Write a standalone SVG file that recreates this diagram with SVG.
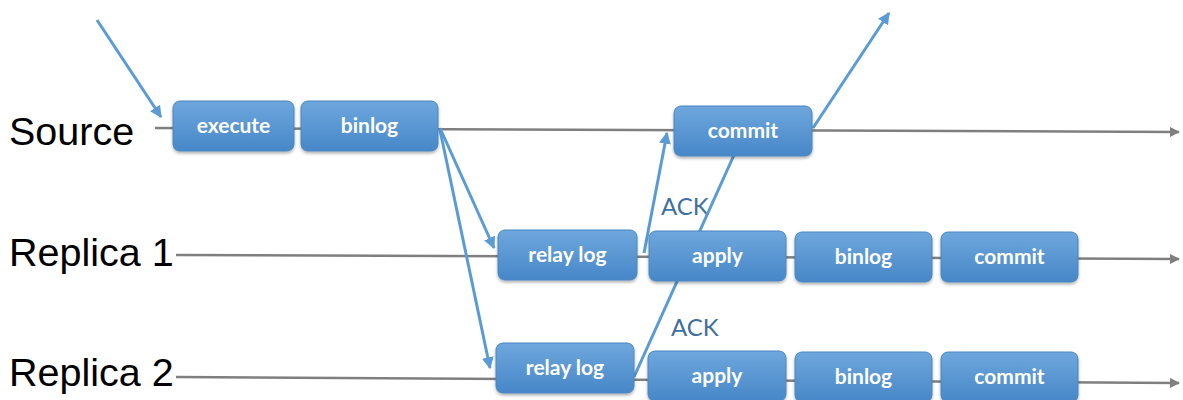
<svg xmlns="http://www.w3.org/2000/svg" width="1183" height="400" viewBox="0 0 1183 400">
<style>
.lane{font-family:"Liberation Sans",Arial,sans-serif;font-size:39.5px;fill:#000}
.bx{fill:url(#g);stroke:#4a86c0;stroke-width:1;filter:url(#sh)}
.bt{font-family:Lato,"Open Sans",sans-serif;font-weight:bold;font-size:21px;fill:#fff;text-anchor:middle}
.ack{font-family:Lato,"Open Sans",sans-serif;font-size:24px;fill:#41709e}
.tl{stroke:#7f7f7f;stroke-width:2.5;fill:none;marker-end:url(#ga)}
.ar{stroke:#5b9bd5;stroke-width:3;fill:none;marker-end:url(#ba)}
.ln{stroke:#5b9bd5;stroke-width:3;fill:none}
</style>
<defs>
<linearGradient id="g" x1="0" y1="0" x2="0" y2="1">
<stop offset="0" stop-color="#6ea7dd"/>
<stop offset="1" stop-color="#4787c8"/>
</linearGradient>
<filter id="sh" x="-10%" y="-10%" width="120%" height="140%">
<feDropShadow dx="0" dy="2" stdDeviation="1.5" flood-color="#000" flood-opacity="0.3"/>
</filter>
<marker id="ga" viewBox="0 0 10 10" refX="9" refY="5" markerWidth="4" markerHeight="4" orient="auto" markerUnits="strokeWidth">
<path d="M0,0L10,5L0,10z" fill="#7f7f7f"/>
</marker>
<marker id="ba" viewBox="0 0 10 10" refX="9" refY="5" markerWidth="4" markerHeight="4" orient="auto" markerUnits="strokeWidth">
<path d="M0,0L10,5L0,10z" fill="#5b9bd5"/>
</marker>
</defs>
<g id="labels">
<text class="lane" x="9" y="145">Source</text>
<text class="lane" x="9" y="266">Replica 1</text>
<text class="lane" x="9" y="386">Replica 2</text>
<text class="ack" x="661" y="215">ACK</text>
<text class="ack" x="671" y="336">ACK</text>
</g>
<g id="connectors">
<path class="tl" d="M155,128 L1179,132"/>
<path class="tl" d="M176,255 L1179,259"/>
<path class="tl" d="M176,377 L1179,383"/>
<path class="ar" d="M97,20 L161,117"/>
<path class="ar" d="M440,128 L494,248"/>
<path class="ar" d="M440,130 L490,368"/>
<path class="ar" d="M644,253 L667,133"/>
<path class="ln" d="M634,377 L734,155"/>
<path class="ar" d="M813,128 L889,13"/>
</g>
<g id="src-execute"><rect class="bx" x="173" y="101" width="121" height="50" rx="7"/><text class="bt" x="233.5" y="133">execute</text></g>
<g id="src-binlog"><rect class="bx" x="301" y="101" width="137" height="50" rx="7"/><text class="bt" x="369.5" y="133">binlog</text></g>
<g id="src-commit"><rect class="bx" x="674" y="106" width="138" height="50" rx="7"/><text class="bt" x="743" y="138">commit</text></g>
<g id="r1-relay"><rect class="bx" x="498" y="230" width="139" height="50" rx="7"/><text class="bt" x="567.5" y="262">relay log</text></g>
<g id="r1-apply"><rect class="bx" x="649" y="231" width="137" height="50" rx="7"/><text class="bt" x="717.5" y="263">apply</text></g>
<g id="r1-binlog"><rect class="bx" x="795" y="232" width="137" height="50" rx="7"/><text class="bt" x="863.5" y="264">binlog</text></g>
<g id="r1-commit"><rect class="bx" x="941" y="232" width="137" height="50" rx="7"/><text class="bt" x="1009.5" y="264">commit</text></g>
<g id="r2-relay"><rect class="bx" x="496" y="343" width="138" height="50" rx="7"/><text class="bt" x="565" y="375">relay log</text></g>
<g id="r2-apply"><rect class="bx" x="648" y="351" width="138" height="50" rx="7"/><text class="bt" x="717" y="383">apply</text></g>
<g id="r2-binlog"><rect class="bx" x="795" y="352" width="137" height="50" rx="7"/><text class="bt" x="863.5" y="384">binlog</text></g>
<g id="r2-commit"><rect class="bx" x="941" y="352" width="137" height="50" rx="7"/><text class="bt" x="1009.5" y="384">commit</text></g>
</svg>
